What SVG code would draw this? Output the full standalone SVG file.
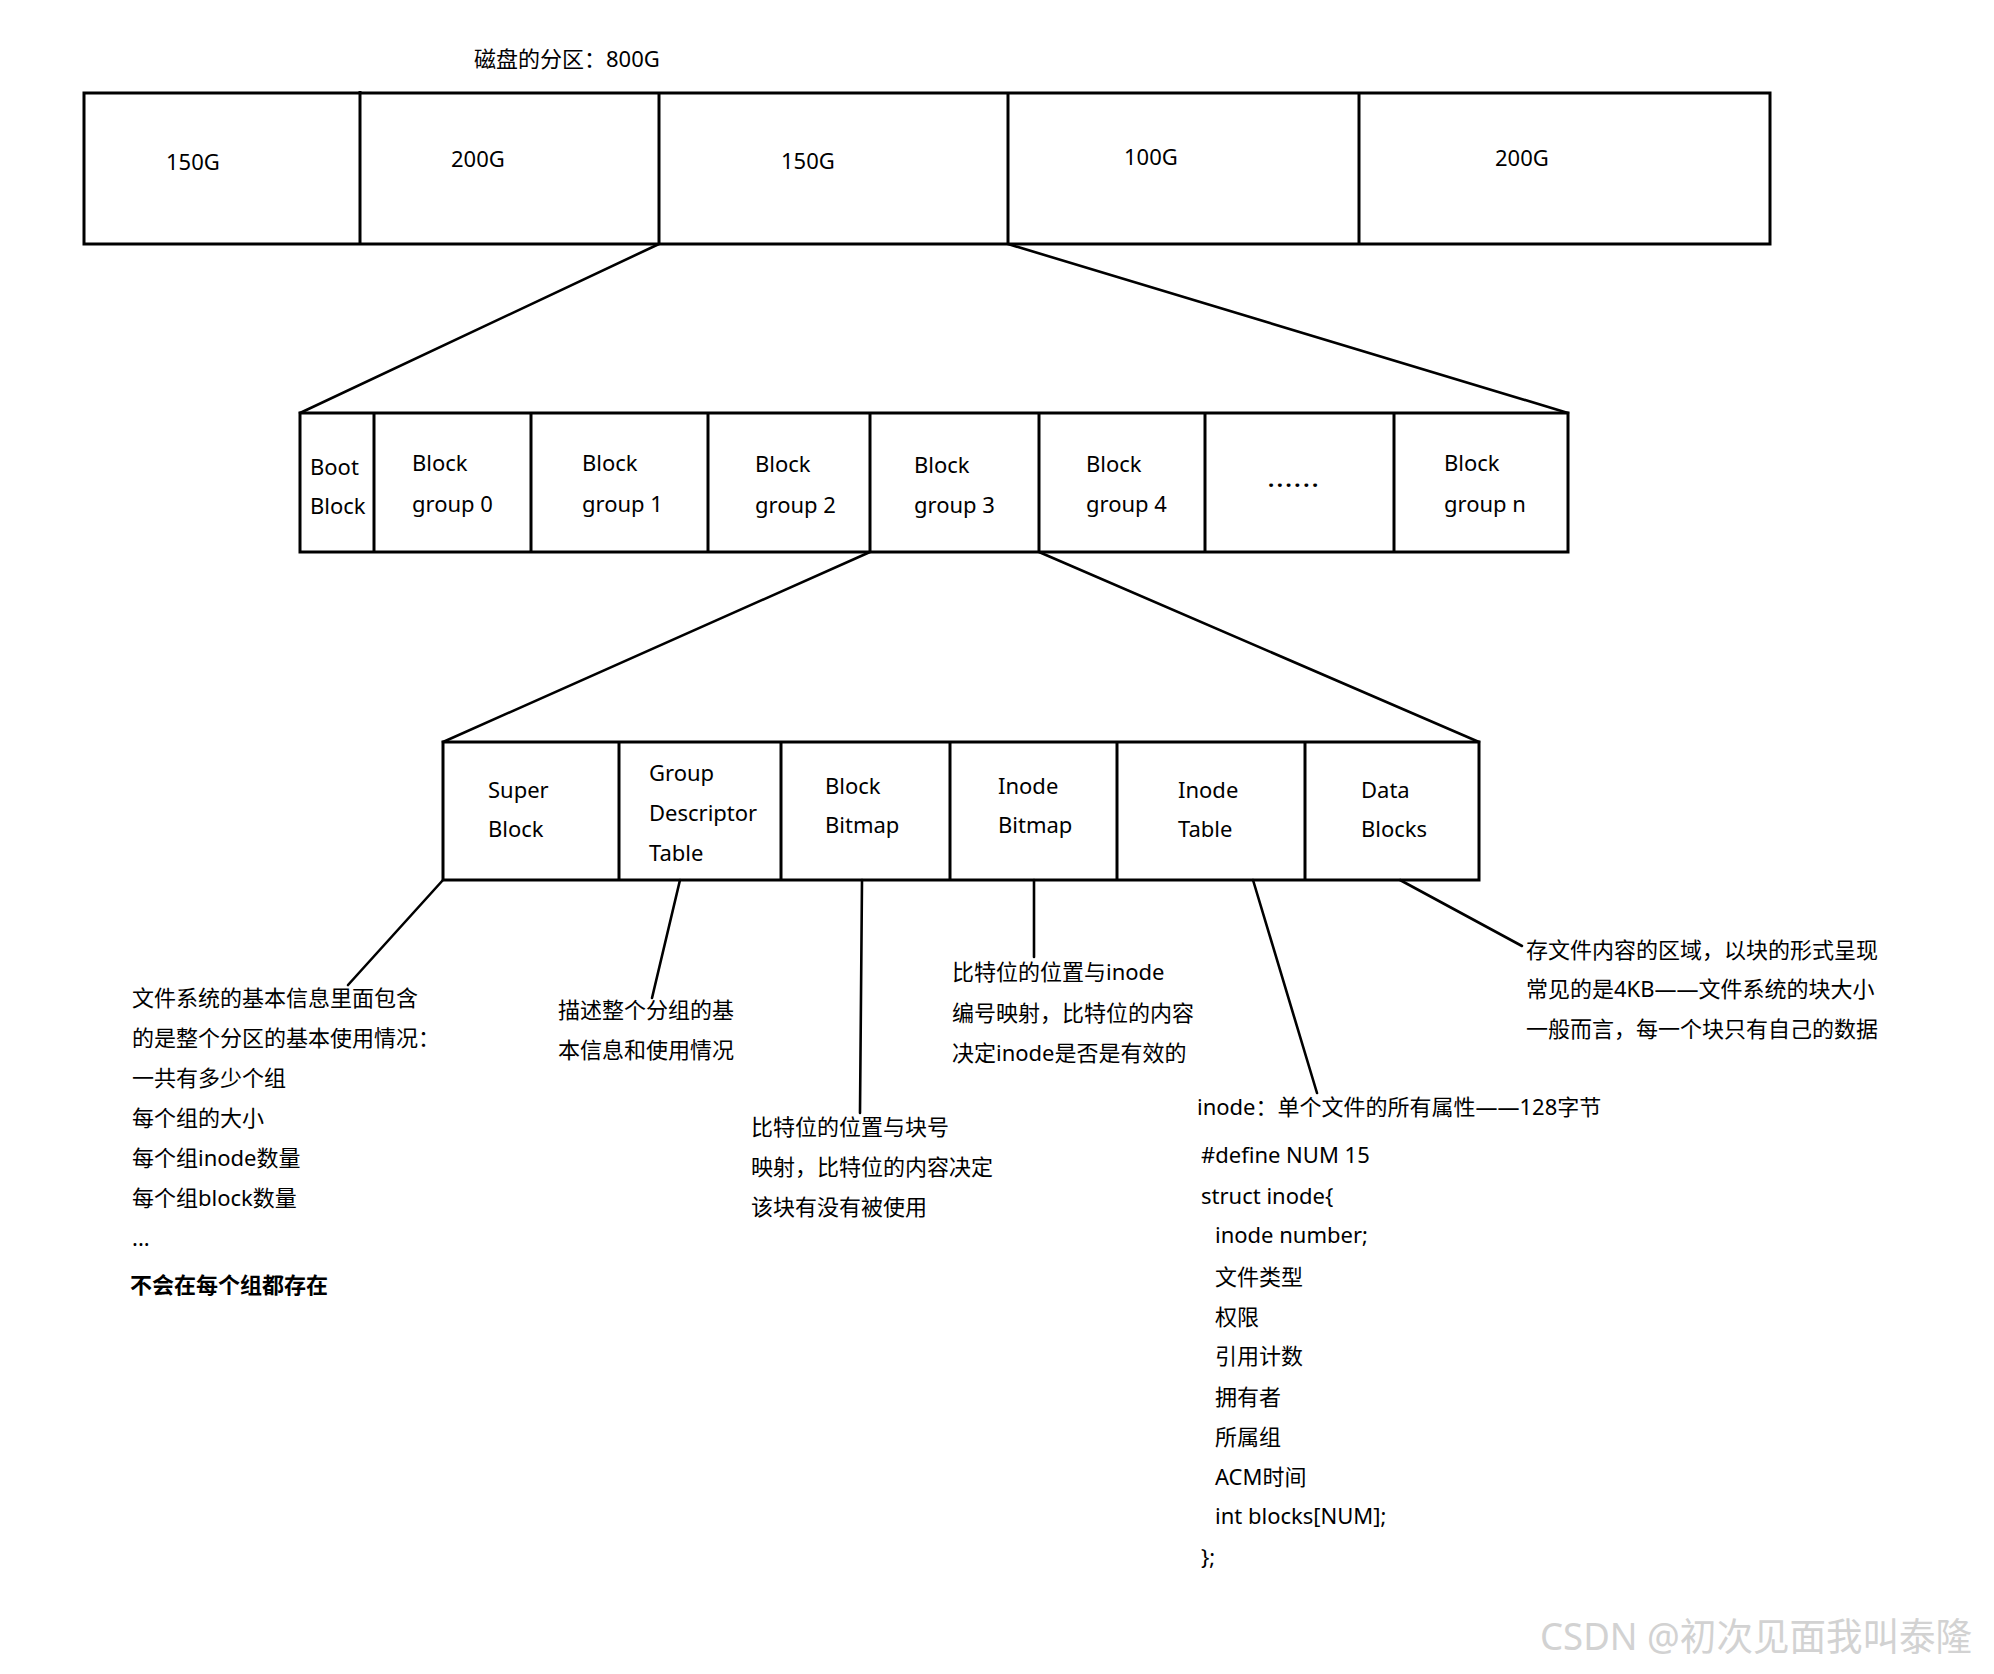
<svg xmlns="http://www.w3.org/2000/svg" width="1994" height="1674" viewBox="0 0 1994 1674">
<style>
text{font-family:"Noto Sans","Noto Sans CJK SC",sans-serif;font-size:22px;fill:#000}
.box{fill:#fff;stroke:#000;stroke-width:3}
.div{stroke:#000;stroke-width:3;fill:none}
.con{stroke:#000;stroke-width:2.6;fill:none;stroke-linecap:round}
.b{font-weight:bold}
.wm{font-size:38px;fill:#d2d2d2}
</style>
<rect width="1994" height="1674" fill="#fff"/>
<text x="474" y="67">磁盘的分区：800G</text>
<g id="disk">
<rect class="box" x="84" y="93" width="1686" height="151"/>
<line class="div" x1="360" y1="91" x2="360" y2="244"/>
<line class="div" x1="659" y1="93" x2="659" y2="244"/>
<line class="div" x1="1008" y1="93" x2="1008" y2="244"/>
<line class="div" x1="1359" y1="93" x2="1359" y2="244"/>
</g>
<g id="p1"><text x="166" y="170">150G</text></g>
<g id="p2"><text x="451" y="167">200G</text></g>
<g id="p3"><text x="781" y="169">150G</text></g>
<g id="p4"><text x="1124" y="165">100G</text></g>
<g id="p5"><text x="1495" y="166">200G</text></g>
<g id="row2">
<rect class="box" x="300" y="413" width="1268" height="139"/>
<line class="div" x1="374" y1="413" x2="374" y2="552"/>
<line class="div" x1="531" y1="413" x2="531" y2="552"/>
<line class="div" x1="708" y1="413" x2="708" y2="552"/>
<line class="div" x1="870" y1="413" x2="870" y2="552"/>
<line class="div" x1="1039" y1="413" x2="1039" y2="552"/>
<line class="div" x1="1205" y1="413" x2="1205" y2="552"/>
<line class="div" x1="1394" y1="413" x2="1394" y2="552"/>
</g>
<g id="boot"><text x="310" y="475">Boot</text><text x="310" y="514">Block</text></g>
<g id="bg0"><text x="412" y="471">Block</text><text x="412" y="512">group 0</text></g>
<g id="bg1"><text x="582" y="471">Block</text><text x="582" y="512">group 1</text></g>
<g id="bg2"><text x="755" y="472">Block</text><text x="755" y="513">group 2</text></g>
<g id="bg3"><text x="914" y="473">Block</text><text x="914" y="513">group 3</text></g>
<g id="bg4"><text x="1086" y="472">Block</text><text x="1086" y="512">group 4</text></g>
<g id="dots"><text class="b" x="1268" y="487" letter-spacing="2.6">......</text></g>
<g id="bgn"><text x="1444" y="471">Block</text><text x="1444" y="512">group n</text></g>
<g id="row3">
<rect class="box" x="443" y="742" width="1036" height="138"/>
<line class="div" x1="619" y1="742" x2="619" y2="880"/>
<line class="div" x1="781" y1="742" x2="781" y2="880"/>
<line class="div" x1="950" y1="742" x2="950" y2="880"/>
<line class="div" x1="1117" y1="742" x2="1117" y2="880"/>
<line class="div" x1="1305" y1="742" x2="1305" y2="880"/>
</g>
<g id="super"><text x="488" y="798">Super</text><text x="488" y="837">Block</text></g>
<g id="gdt"><text x="649" y="781">Group</text><text x="649" y="821">Descriptor</text><text x="649" y="861">Table</text></g>
<g id="bbm"><text x="825" y="794">Block</text><text x="825" y="833">Bitmap</text></g>
<g id="ibm"><text x="998" y="794">Inode</text><text x="998" y="833">Bitmap</text></g>
<g id="itab"><text x="1178" y="798">Inode</text><text x="1178" y="837">Table</text></g>
<g id="data"><text x="1361" y="798">Data</text><text x="1361" y="837">Blocks</text></g>
<g id="connectors">
<line class="con" x1="659" y1="244" x2="300" y2="413"/>
<line class="con" x1="1008" y1="244" x2="1568" y2="413"/>
<line class="con" x1="870" y1="552" x2="443" y2="742"/>
<line class="con" x1="1039" y1="552" x2="1479" y2="742"/>
<line class="con" x1="443" y1="880" x2="348" y2="985"/>
<line class="con" x1="680" y1="880" x2="652" y2="998"/>
<line class="con" x1="862" y1="880" x2="860" y2="1113"/>
<line class="con" x1="1034" y1="880" x2="1034" y2="957"/>
<line class="con" x1="1253" y1="880" x2="1317" y2="1093"/>
<line class="con" x1="1400" y1="880" x2="1522" y2="946"/>
</g>
<g id="note-super">
<text x="132" y="1006">文件系统的基本信息里面包含</text>
<text x="132" y="1046">的是整个分区的基本使用情况：</text>
<text x="132" y="1086">一共有多少个组</text>
<text x="132" y="1126">每个组的大小</text>
<text x="132" y="1166">每个组inode数量</text>
<text x="132" y="1206">每个组block数量</text>
<text x="132" y="1246">...</text>
<text class="b" x="130" y="1293">不会在每个组都存在</text>
</g>
<g id="note-gdt">
<text x="558" y="1018">描述整个分组的基</text>
<text x="558" y="1058">本信息和使用情况</text>
</g>
<g id="note-bbm">
<text x="751" y="1135">比特位的位置与块号</text>
<text x="751" y="1175">映射，比特位的内容决定</text>
<text x="751" y="1215">该块有没有被使用</text>
</g>
<g id="note-ibm">
<text x="952" y="980">比特位的位置与inode</text>
<text x="952" y="1021">编号映射，比特位的内容</text>
<text x="952" y="1061">决定inode是否是有效的</text>
</g>
<g id="note-data">
<text x="1526" y="958">存文件内容的区域，以块的形式呈现</text>
<text x="1526" y="997">常见的是4KB——文件系统的块大小</text>
<text x="1526" y="1037">一般而言，每一个块只有自己的数据</text>
</g>
<g id="note-itab">
<text x="1197" y="1115">inode：单个文件的所有属性——128字节</text>
<text x="1201" y="1163">#define NUM 15</text>
<text x="1201" y="1204">struct inode{</text>
<text x="1215" y="1243">inode number;</text>
<text x="1215" y="1285">文件类型</text>
<text x="1215" y="1325">权限</text>
<text x="1215" y="1364">引用计数</text>
<text x="1215" y="1405">拥有者</text>
<text x="1215" y="1445">所属组</text>
<text x="1215" y="1485">ACM时间</text>
<text x="1215" y="1524">int blocks[NUM];</text>
<text x="1201" y="1565">};</text>
</g>
<text class="wm" x="1540" y="1650" textLength="432" lengthAdjust="spacingAndGlyphs">CSDN @初次见面我叫泰隆</text>
</svg>
